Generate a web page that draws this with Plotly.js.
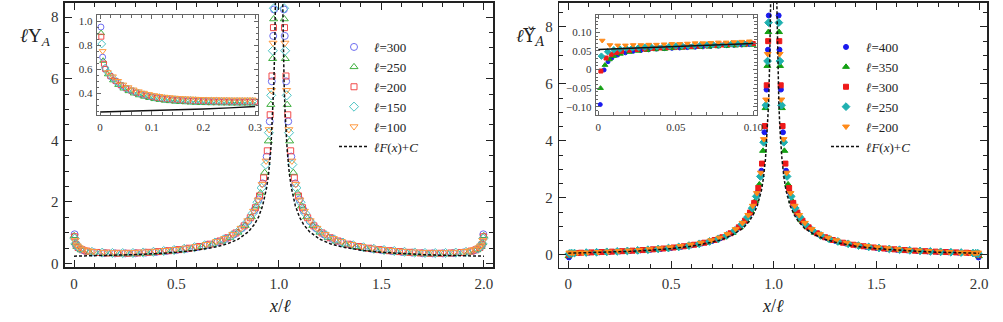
<!DOCTYPE html>
<html>
<head>
<meta charset="utf-8">
<script src="https://cdn.plot.ly/plotly-3.0.1.min.js"></script>
<style>
  html, body { margin: 0; padding: 0; background: #fff; }
  #myDiv { width: 1003px; height: 322px; }
</style>
</head>
<body>
<div id="myDiv"></div>
<script>
// x grids (x/l) shared by the two main panels, staggered so the bands fill in
var xGridA = [0.003, 0.01, 0.02, 0.05, 0.1, 0.15, 0.2, 0.25, 0.3, 0.35, 0.4, 0.45, 0.5, 0.55, 0.6, 0.65, 0.7, 0.74, 0.78, 0.82, 0.85, 0.88, 0.9, 0.92, 0.94, 0.955, 0.965, 0.972, 0.976,
  1.024, 1.028, 1.035, 1.045, 1.06, 1.08, 1.1, 1.12, 1.15, 1.18, 1.22, 1.26, 1.3, 1.35, 1.4, 1.45, 1.5, 1.55, 1.6, 1.65, 1.7, 1.75, 1.8, 1.85, 1.9, 1.95, 1.98, 1.99, 1.997];
var xGridB = [0.001, 0.006, 0.014, 0.035, 0.075, 0.125, 0.175, 0.225, 0.275, 0.325, 0.375, 0.425, 0.475, 0.525, 0.575, 0.625, 0.675, 0.72, 0.76, 0.8, 0.835, 0.865, 0.89, 0.91, 0.93, 0.948, 0.96, 0.969, 0.974,
  1.026, 1.031, 1.04, 1.052, 1.07, 1.09, 1.11, 1.135, 1.165, 1.2, 1.24, 1.28, 1.325, 1.375, 1.425, 1.475, 1.525, 1.575, 1.625, 1.675, 1.725, 1.775, 1.825, 1.875, 1.925, 1.965, 1.986, 1.994, 1.999];
var xGridC = [0.003, 0.01, 0.02, 0.04, 0.0625, 0.1125, 0.1625, 0.2125, 0.2625, 0.3125, 0.3625, 0.4125, 0.4625, 0.5125, 0.5625, 0.6125, 0.6625, 0.7125, 0.75, 0.79, 0.83, 0.86, 0.885, 0.905, 0.925, 0.943, 0.957, 0.966, 0.973,
  1.027, 1.034, 1.043, 1.057, 1.075, 1.095, 1.115, 1.14, 1.17, 1.21, 1.25, 1.2875, 1.3375, 1.3875, 1.4375, 1.4875, 1.5375, 1.5875, 1.6375, 1.6875, 1.7375, 1.7875, 1.8375, 1.8875, 1.9375, 1.96, 1.98, 1.99, 1.997];
var xGridD = [0.0033, 0.008, 0.017, 0.03, 0.0875, 0.1375, 0.1875, 0.2375, 0.2875, 0.3375, 0.3875, 0.4375, 0.4875, 0.5375, 0.5875, 0.6375, 0.6875, 0.73, 0.77, 0.81, 0.845, 0.872, 0.895, 0.915, 0.935, 0.951, 0.962, 0.97, 0.975,
  1.025, 1.03, 1.038, 1.049, 1.065, 1.085, 1.105, 1.128, 1.155, 1.19, 1.23, 1.27, 1.3125, 1.3625, 1.4125, 1.4625, 1.5125, 1.5625, 1.6125, 1.6625, 1.7125, 1.7625, 1.8125, 1.8625, 1.9125, 1.97, 1.983, 1.992, 1.9967];
var xGridE = [0.005, 0.015, 0.025, 0.045, 0.07, 0.095, 0.145, 0.195, 0.245, 0.295, 0.345, 0.395, 0.445, 0.495, 0.545, 0.595, 0.645, 0.695, 0.735, 0.775, 0.815, 0.848, 0.876, 0.898, 0.918, 0.937, 0.952, 0.963, 0.971,
  1.029, 1.037, 1.048, 1.063, 1.082, 1.102, 1.124, 1.152, 1.185, 1.225, 1.265, 1.305, 1.355, 1.405, 1.455, 1.505, 1.555, 1.605, 1.655, 1.705, 1.755, 1.805, 1.855, 1.905, 1.93, 1.955, 1.975, 1.985, 1.995];

// left panel: l*Upsilon_A
var left300 = [0.95, 0.62, 0.52, 0.42, 0.36, 0.34, 0.33, 0.33, 0.335, 0.354, 0.376, 0.404, 0.437, 0.48, 0.533, 0.603, 0.699, 0.802, 0.944, 1.151, 1.382, 1.731, 2.08, 2.603, 3.473, 4.615, 5.917, 7.391, 8.25,
  8.25, 7.391, 5.917, 4.615, 3.473, 2.603, 2.08, 1.731, 1.382, 1.151, 0.944, 0.802, 0.699, 0.603, 0.533, 0.48, 0.437, 0.404, 0.376, 0.354, 0.335, 0.33, 0.33, 0.34, 0.36, 0.42, 0.52, 0.62, 0.95];
var left250 = [0.9, 0.67, 0.55, 0.44, 0.365, 0.325, 0.31, 0.305, 0.305, 0.319, 0.34, 0.365, 0.395, 0.433, 0.481, 0.541, 0.623, 0.722, 0.843, 1.012, 1.232, 1.513, 1.865, 2.289, 2.953, 3.975, 5.16, 6.65, 7.94,
  7.94, 6.65, 5.16, 3.975, 2.953, 2.289, 1.865, 1.513, 1.232, 1.012, 0.843, 0.722, 0.623, 0.541, 0.481, 0.433, 0.395, 0.365, 0.34, 0.319, 0.305, 0.305, 0.31, 0.325, 0.365, 0.44, 0.55, 0.67, 0.9];
var left200 = [0.87, 0.61, 0.52, 0.445, 0.405, 0.36, 0.343, 0.335, 0.335, 0.344, 0.364, 0.388, 0.417, 0.452, 0.498, 0.554, 0.629, 0.733, 0.838, 0.993, 1.224, 1.487, 1.813, 2.196, 2.781, 3.66, 4.83, 6.09, 7.66,
  7.66, 6.09, 4.83, 3.66, 2.781, 2.196, 1.813, 1.487, 1.224, 0.993, 0.838, 0.733, 0.629, 0.554, 0.498, 0.452, 0.417, 0.388, 0.364, 0.344, 0.335, 0.335, 0.343, 0.36, 0.405, 0.445, 0.52, 0.61, 0.87];
var left150 = [0.81, 0.65, 0.55, 0.49, 0.38, 0.355, 0.343, 0.34, 0.343, 0.359, 0.381, 0.407, 0.439, 0.479, 0.529, 0.594, 0.681, 0.784, 0.914, 1.102, 1.349, 1.631, 1.99, 2.46, 3.215, 4.249, 5.462, 6.91, 8.29,
  8.29, 6.91, 5.462, 4.249, 3.215, 2.46, 1.99, 1.631, 1.349, 1.102, 0.914, 0.784, 0.681, 0.594, 0.529, 0.479, 0.439, 0.407, 0.381, 0.359, 0.343, 0.34, 0.343, 0.355, 0.38, 0.49, 0.55, 0.65, 0.81];
var left100 = [0.75, 0.58, 0.52, 0.46, 0.42, 0.395, 0.372, 0.361, 0.36, 0.364, 0.382, 0.404, 0.431, 0.464, 0.506, 0.558, 0.626, 0.718, 0.818, 0.954, 1.151, 1.395, 1.704, 2.069, 2.572, 3.333, 4.354, 5.625, 7.162,
  7.162, 5.625, 4.354, 3.333, 2.572, 2.069, 1.704, 1.395, 1.151, 0.954, 0.818, 0.718, 0.626, 0.558, 0.506, 0.464, 0.431, 0.404, 0.382, 0.364, 0.36, 0.361, 0.372, 0.395, 0.42, 0.46, 0.52, 0.58, 0.75];

// right panel: l*Upsilon-check_A
var right400 = [-0.094, 0.035, 0.055, 0.063, 0.074, 0.086, 0.099, 0.115, 0.132, 0.153, 0.176, 0.204, 0.238, 0.279, 0.331, 0.397, 0.485, 0.58, 0.709, 0.896, 1.1, 1.41, 1.72, 2.18, 2.95, 4.3, 5.8, 7.2, 8.4,
  8.4, 7.2, 5.8, 4.3, 2.95, 2.18, 1.72, 1.41, 1.1, 0.896, 0.709, 0.58, 0.485, 0.397, 0.331, 0.279, 0.238, 0.204, 0.176, 0.153, 0.132, 0.115, 0.099, 0.086, 0.074, 0.063, 0.055, 0.035, -0.094];
var right350 = [-0.05, 0.02, 0.042, 0.052, 0.058, 0.068, 0.08, 0.095, 0.11, 0.129, 0.15, 0.176, 0.206, 0.244, 0.289, 0.346, 0.42, 0.51, 0.62, 0.77, 0.965, 1.21, 1.52, 1.89, 2.47, 3.65, 5.15, 6.63, 7.82,
  7.82, 6.63, 5.15, 3.65, 2.47, 1.89, 1.52, 1.21, 0.965, 0.77, 0.62, 0.51, 0.42, 0.346, 0.289, 0.244, 0.206, 0.176, 0.15, 0.129, 0.11, 0.095, 0.08, 0.068, 0.058, 0.052, 0.042, 0.02, -0.05];
var right300 = [-0.004, 0.04, 0.058, 0.063, 0.072, 0.083, 0.096, 0.11, 0.126, 0.144, 0.165, 0.19, 0.219, 0.255, 0.298, 0.352, 0.423, 0.518, 0.615, 0.756, 0.963, 1.196, 1.484, 1.822, 2.342, 3.2, 4.52, 5.95, 7.5,
  7.5, 5.95, 4.52, 3.2, 2.342, 1.822, 1.484, 1.196, 0.963, 0.756, 0.615, 0.518, 0.423, 0.352, 0.298, 0.255, 0.219, 0.19, 0.165, 0.144, 0.126, 0.11, 0.096, 0.083, 0.072, 0.063, 0.058, 0.04, -0.004];
var right250 = [0.036, 0.05, 0.055, 0.06, 0.078, 0.089, 0.103, 0.118, 0.135, 0.154, 0.177, 0.204, 0.236, 0.275, 0.323, 0.385, 0.467, 0.56, 0.679, 0.849, 1.069, 1.32, 1.637, 2.05, 2.75, 3.95, 5.25, 6.8, 8.15,
  8.15, 6.8, 5.25, 3.95, 2.75, 2.05, 1.637, 1.32, 1.069, 0.849, 0.679, 0.56, 0.467, 0.385, 0.323, 0.275, 0.236, 0.204, 0.177, 0.154, 0.135, 0.118, 0.103, 0.089, 0.078, 0.06, 0.055, 0.05, 0.036];
var right200 = [0.078, 0.066, 0.066, 0.07, 0.075, 0.08, 0.096, 0.112, 0.128, 0.147, 0.17, 0.196, 0.226, 0.262, 0.305, 0.356, 0.421, 0.507, 0.598, 0.724, 0.9, 1.12, 1.395, 1.72, 2.165, 2.88, 4.06, 5.45, 7.05,
  7.05, 5.45, 4.06, 2.88, 2.165, 1.72, 1.395, 1.12, 0.9, 0.724, 0.598, 0.507, 0.421, 0.356, 0.305, 0.262, 0.226, 0.196, 0.17, 0.147, 0.128, 0.112, 0.096, 0.08, 0.075, 0.07, 0.066, 0.066, 0.078];

// l F(x) + C curves (gap at x = 1)
var xFit = [0, 0.1, 0.2, 0.3, 0.4, 0.5, 0.6, 0.7, 0.75, 0.8, 0.85, 0.88, 0.9, 0.92, 0.94, 0.95, 0.96, 0.97, 0.975, 0.98, 0.983, 0.985, 1,
  1.015, 1.017, 1.02, 1.025, 1.03, 1.04, 1.05, 1.06, 1.08, 1.1, 1.12, 1.15, 1.2, 1.25, 1.3, 1.4, 1.5, 1.6, 1.7, 1.8, 1.9, 2.0];
var leftFit = [0.24, 0.252, 0.268, 0.29, 0.321, 0.365, 0.434, 0.55, 0.645, 0.788, 1.028, 1.268, 1.509, 1.871, 2.474, 2.957, 3.682, 4.89, 5.856, 7.306, 8.585, 9.72, null,
  9.72, 8.585, 7.306, 5.856, 4.89, 3.682, 2.957, 2.474, 1.871, 1.509, 1.268, 1.028, 0.788, 0.645, 0.55, 0.434, 0.365, 0.321, 0.29, 0.268, 0.252, 0.24];
var rightFit = [0.055, 0.07, 0.09, 0.12, 0.16, 0.215, 0.3, 0.44, 0.54, 0.7, 0.93, 1.17, 1.4, 1.72, 2.25, 2.7, 3.37, 4.45, 5.3, 6.65, 7.8, 8.9, null,
  8.9, 7.8, 6.65, 5.3, 4.45, 3.37, 2.7, 2.25, 1.72, 1.4, 1.17, 0.93, 0.7, 0.54, 0.44, 0.3, 0.215, 0.16, 0.12, 0.09, 0.07, 0.055];

// left inset (0 < x < 0.3)
var insGrid1 = [0.01, 0.02, 0.03, 0.04, 0.05, 0.06, 0.07, 0.08, 0.09, 0.1, 0.11, 0.12, 0.13, 0.14, 0.15, 0.16, 0.17, 0.18, 0.19, 0.2, 0.21, 0.22, 0.23, 0.24, 0.25, 0.26, 0.27, 0.28, 0.29, 0.3];
var insGrid2 = [0.015, 0.025, 0.035, 0.045, 0.055, 0.065, 0.075, 0.085, 0.095, 0.105, 0.115, 0.125, 0.135, 0.145, 0.155, 0.165, 0.175, 0.185, 0.195, 0.205, 0.215, 0.225, 0.235, 0.245, 0.255, 0.265, 0.275, 0.285, 0.295];
var ins300x = [0.0017, 0.005], ins300 = [0.95, 0.7, 0.6, 0.54, 0.5, 0.465, 0.44, 0.42, 0.403, 0.39, 0.378, 0.368, 0.36, 0.354, 0.349, 0.345, 0.342, 0.339, 0.337, 0.335, 0.333, 0.332, 0.331, 0.33, 0.329, 0.329, 0.328, 0.328, 0.328, 0.328, 0.328, 0.328];
var ins250x = [0.002, 0.006], ins250 = [0.9, 0.67, 0.558, 0.508, 0.47, 0.44, 0.418, 0.399, 0.384, 0.372, 0.361, 0.352, 0.345, 0.339, 0.335, 0.331, 0.328, 0.326, 0.324, 0.322, 0.32, 0.319, 0.318, 0.318, 0.317, 0.317, 0.316, 0.316, 0.316, 0.316, 0.316];
var ins200x = [0.0025, 0.0075], ins200 = [0.87, 0.645, 0.603, 0.543, 0.503, 0.468, 0.443, 0.423, 0.406, 0.393, 0.381, 0.371, 0.363, 0.357, 0.352, 0.348, 0.345, 0.342, 0.34, 0.338, 0.336, 0.335, 0.334, 0.333, 0.332, 0.332, 0.331, 0.331, 0.331, 0.331, 0.331, 0.331];
var ins150x = [0.0033, 0.01], ins150 = [0.81, 0.61, 0.575, 0.525, 0.487, 0.457, 0.435, 0.416, 0.401, 0.389, 0.378, 0.369, 0.362, 0.356, 0.352, 0.348, 0.345, 0.343, 0.341, 0.339, 0.337, 0.336, 0.335, 0.335, 0.334, 0.334, 0.333, 0.333, 0.333, 0.333, 0.333];
var ins100x = [0.005], ins100 = [0.75, 0.575, 0.54, 0.502, 0.472, 0.45, 0.431, 0.416, 0.404, 0.393, 0.384, 0.377, 0.371, 0.367, 0.363, 0.36, 0.358, 0.356, 0.354, 0.352, 0.351, 0.35, 0.35, 0.349, 0.349, 0.348, 0.348, 0.348, 0.348, 0.348];
var insFitX = [0, 0.05, 0.1, 0.15, 0.2, 0.25, 0.3];
var insFitY = [0.245, 0.25, 0.255, 0.262, 0.27, 0.279, 0.29];

// right inset (0 < x < 0.1)
var rins400x = [0.00125, 0.00375, 0.00625, 0.00875, 0.0125, 0.0175, 0.0225, 0.0275, 0.0325, 0.0375, 0.0425, 0.0475, 0.0525, 0.0575, 0.0625, 0.0675, 0.0725, 0.0775, 0.0825, 0.0875, 0.0925, 0.0975];
var rins400 = [-0.094, -0.001, 0.021, 0.031, 0.039, 0.045, 0.049, 0.051, 0.053, 0.055, 0.056, 0.057, 0.058, 0.059, 0.06, 0.061, 0.062, 0.063, 0.064, 0.065, 0.066, 0.067];
var rins350x = [0.00143, 0.00429, 0.00714, 0.01, 0.0143, 0.02, 0.0257, 0.0314, 0.0371, 0.0429, 0.0486, 0.0543, 0.06, 0.0657, 0.0714, 0.0771, 0.0829, 0.0886, 0.0943, 0.1];
var rins350 = [-0.05, 0.012, 0.027, 0.036, 0.042, 0.047, 0.05, 0.052, 0.054, 0.055, 0.057, 0.058, 0.059, 0.06, 0.061, 0.062, 0.063, 0.064, 0.065, 0.066];
var rins300x = [0.00167, 0.005, 0.00833, 0.0117, 0.015, 0.02, 0.025, 0.03, 0.035, 0.04, 0.045, 0.05, 0.055, 0.06, 0.065, 0.07, 0.075, 0.08, 0.085, 0.09, 0.095, 0.1];
var rins300 = [-0.004, 0.031, 0.041, 0.046, 0.049, 0.052, 0.054, 0.055, 0.057, 0.058, 0.059, 0.06, 0.061, 0.062, 0.063, 0.064, 0.065, 0.066, 0.067, 0.068, 0.069, 0.07];
var rins250x = [0.002, 0.006, 0.01, 0.014, 0.018, 0.022, 0.026, 0.03, 0.034, 0.038, 0.042, 0.046, 0.05, 0.054, 0.058, 0.062, 0.066, 0.07, 0.074, 0.078, 0.082, 0.086, 0.09, 0.094, 0.098];
var rins250 = [0.036, 0.048, 0.053, 0.055, 0.057, 0.058, 0.059, 0.06, 0.061, 0.061, 0.062, 0.063, 0.063, 0.064, 0.064, 0.065, 0.066, 0.066, 0.067, 0.067, 0.068, 0.069, 0.069, 0.07, 0.071];
var rins200x = [0.0025, 0.0075, 0.0125, 0.0175, 0.0225, 0.0275, 0.0325, 0.0375, 0.0425, 0.0475, 0.0525, 0.0575, 0.0625, 0.0675, 0.0725, 0.0775, 0.0825, 0.0875, 0.0925, 0.0975];
var rins200 = [0.078, 0.066, 0.065, 0.065, 0.066, 0.066, 0.067, 0.067, 0.068, 0.069, 0.069, 0.07, 0.071, 0.071, 0.072, 0.073, 0.073, 0.074, 0.075, 0.076];
var rinsFitX = [0, 0.02, 0.04, 0.06, 0.08, 0.1];
var rinsFitY = [0.054, 0.057, 0.06, 0.063, 0.066, 0.07];

var serif = 'Liberation Serif, DejaVu Serif, serif';
var openCol = {c300: '#6e6ef0', c250: '#3fb03f', c200: '#f24a4a', c150: '#4cc4c4', c100: '#ff9a40'};
var fillCol = {c400: '#1a1aee', c350: '#14a014', c300: '#ee1a1a', c250: '#1fb0b0', c200: '#ff8a1a'};

function pts(x, y, name, symbol, color, size, xa, ya, legendId) {
  return {
    x: x, y: y, name: name, type: 'scatter', mode: 'markers',
    xaxis: xa, yaxis: ya, legend: legendId, showlegend: !!legendId,
    marker: {symbol: symbol, color: color, size: size, line: {color: color, width: 1}}
  };
}
function fit(x, y, xa, ya, legendId, dash, w) {
  return {
    x: x, y: y, name: '<i>ℓF</i>(<i>x</i>)+<i>C</i>', type: 'scatter', mode: 'lines',
    xaxis: xa, yaxis: ya, legend: legendId, showlegend: !!legendId,
    line: {color: '#111', width: w, dash: dash}
  };
}

var data = [
  pts(xGridA, left300, '<i>ℓ</i>=300', 'circle-open', openCol.c300, 7, 'x', 'y', 'legend'),
  pts(xGridB, left250, '<i>ℓ</i>=250', 'triangle-up-open', openCol.c250, 7, 'x', 'y', 'legend'),
  pts(xGridC, left200, '<i>ℓ</i>=200', 'square-open', openCol.c200, 6, 'x', 'y', 'legend'),
  pts(xGridD, left150, '<i>ℓ</i>=150', 'diamond-open', openCol.c150, 7, 'x', 'y', 'legend'),
  pts(xGridE, left100, '<i>ℓ</i>=100', 'triangle-down-open', openCol.c100, 7, 'x', 'y', 'legend'),
  fit(xFit, leftFit, 'x', 'y', 'legend', '3px,2px', 1.5),

  pts(ins300x.concat(insGrid1), ins300, '', 'circle-open', openCol.c300, 6, 'x2', 'y2'),
  pts(ins250x.concat(insGrid2), ins250, '', 'triangle-up-open', openCol.c250, 6, 'x2', 'y2'),
  pts(ins200x.concat(insGrid1), ins200, '', 'square-open', openCol.c200, 5, 'x2', 'y2'),
  pts(ins150x.concat(insGrid2), ins150, '', 'diamond-open', openCol.c150, 6, 'x2', 'y2'),
  pts(ins100x.concat(insGrid2), ins100, '', 'triangle-down-open', openCol.c100, 6, 'x2', 'y2'),
  fit(insFitX, insFitY, 'x2', 'y2', null, 'solid', 1.5),

  pts(xGridA, right400, '<i>ℓ</i>=400', 'circle', fillCol.c400, 5, 'x3', 'y3', 'legend2'),
  pts(xGridB, right350, '<i>ℓ</i>=350', 'triangle-up', fillCol.c350, 6, 'x3', 'y3', 'legend2'),
  pts(xGridC, right300, '<i>ℓ</i>=300', 'square', fillCol.c300, 5, 'x3', 'y3', 'legend2'),
  pts(xGridD, right250, '<i>ℓ</i>=250', 'diamond', fillCol.c250, 6, 'x3', 'y3', 'legend2'),
  pts(xGridE, right200, '<i>ℓ</i>=200', 'triangle-down', fillCol.c200, 6, 'x3', 'y3', 'legend2'),
  fit(xFit, rightFit, 'x3', 'y3', 'legend2', '3px,2px', 1.5),

  pts(rins400x, rins400, '', 'circle', fillCol.c400, 4, 'x4', 'y4'),
  pts(rins350x, rins350, '', 'triangle-up', fillCol.c350, 5, 'x4', 'y4'),
  pts(rins300x, rins300, '', 'square', fillCol.c300, 4, 'x4', 'y4'),
  pts(rins250x, rins250, '', 'diamond', fillCol.c250, 5, 'x4', 'y4'),
  pts(rins200x, rins200, '', 'triangle-down', fillCol.c200, 5, 'x4', 'y4'),
  fit(rinsFitX, rinsFitY, 'x4', 'y4', null, 'solid', 1.5)
];

function axis(domain, range, vals, text, minorStep, big, anchor, standoff) {
  return {
    domain: domain, range: range, anchor: anchor,
    showgrid: false, zeroline: false,
    showline: true, mirror: 'allticks', linecolor: big ? '#222' : '#666', linewidth: big ? 1.6 : 1,
    ticks: 'inside', ticklen: big ? 7 : 4, tickwidth: 1, tickcolor: big ? '#222' : '#666',
    tickmode: 'array', tickvals: vals, ticktext: text, ticklabelstandoff: standoff || 0,
    tickfont: {family: serif, size: big ? 15 : 11, color: '#333'},
    minor: {tickmode: 'linear', tick0: 0, dtick: minorStep, ticks: 'inside', ticklen: big ? 4 : 2.5,
            tickcolor: big ? '#222' : '#666', tickwidth: 1}
  };
}

function note(text, px, py, size, family) {
  return {text: text, x: px / 1003, y: 1 - py / 322, xref: 'paper', yref: 'paper',
          xanchor: 'center', yanchor: 'middle', showarrow: false,
          font: {family: family || serif, size: size, color: '#222'}};
}

var layout = {
  width: 1003, height: 322,
  margin: {l: 0, r: 0, t: 0, b: 0},
  paper_bgcolor: '#fff', plot_bgcolor: '#fff',
  showlegend: true,
  xaxis: axis([0.0648, 0.4915], [-0.044, 2.044], [0, 0.5, 1, 1.5, 2], ['0', '0.5', '1.0', '1.5', '2.0'], 0.1, true, 'y', 2),
  yaxis: axis([0.171, 0.9907], [-0.11, 8.46], [0, 2, 4, 6, 8], ['0', '2', '4', '6', '8'], 0.5, true, 'x', 2),
  xaxis2: axis([0.0964, 0.2575], [-0.0065, 0.306], [0, 0.1, 0.2, 0.3], ['0', '0.1', '0.2', '0.3'], 0.02, false, 'y2', 2),
  yaxis2: axis([0.6429, 0.9534], [0.22, 1.05], [0.4, 0.6, 0.8, 1.0], ['0.4', '0.6', '0.8', '1.0'], 0.05, false, 'x2', 1),
  xaxis3: axis([0.5576, 0.9844], [-0.044, 2.04], [0, 0.5, 1, 1.5, 2], ['0', '0.5', '1.0', '1.5', '2.0'], 0.1, true, 'y3', 2),
  yaxis3: axis([0.169, 0.9907], [-0.45, 8.84], [0, 2, 4, 6, 8], ['0', '2', '4', '6', '8'], 0.5, true, 'x3', 2),
  xaxis4: axis([0.5939, 0.7544], [-0.0017, 0.1022], [0, 0.05, 0.1], ['0', '0.05', '0.10'], 0.01, false, 'y4', 2),
  yaxis4: axis([0.6429, 0.9534], [-0.122, 0.1465], [-0.1, -0.05, 0, 0.05, 0.1], ['\u22120.10', '\u22120.05', '0', '0.05', '0.10'], 0.01, false, 'x4', 1),
  legend: {x: 334 / 1003, y: 1 - 32 / 322, xanchor: 'left', yanchor: 'top', bgcolor: 'rgba(0,0,0,0)',
           tracegroupgap: 0, font: {family: serif, size: 13, color: '#222'}},
  legend2: {x: 826 / 1003, y: 1 - 32 / 322, xanchor: 'left', yanchor: 'top', bgcolor: 'rgba(0,0,0,0)',
            tracegroupgap: 0, font: {family: serif, size: 13, color: '#222'}},
  annotations: [
    note('<i>ℓ</i>Υ<sub><i>A</i></sub>', 35, 37, 19),
    note('<i>ℓ</i>Υ\u030C<sub><i>A</i></sub>', 530, 37, 18, 'DejaVu Serif, serif'),
    note('<i>x</i>/<i>ℓ</i>', 280, 306, 18),
    note('<i>x</i>/<i>ℓ</i>', 773, 306, 18)
  ]
};

Plotly.newPlot('myDiv', data, layout, {displayModeBar: false, staticPlot: true});
</script>
</body>
</html>
